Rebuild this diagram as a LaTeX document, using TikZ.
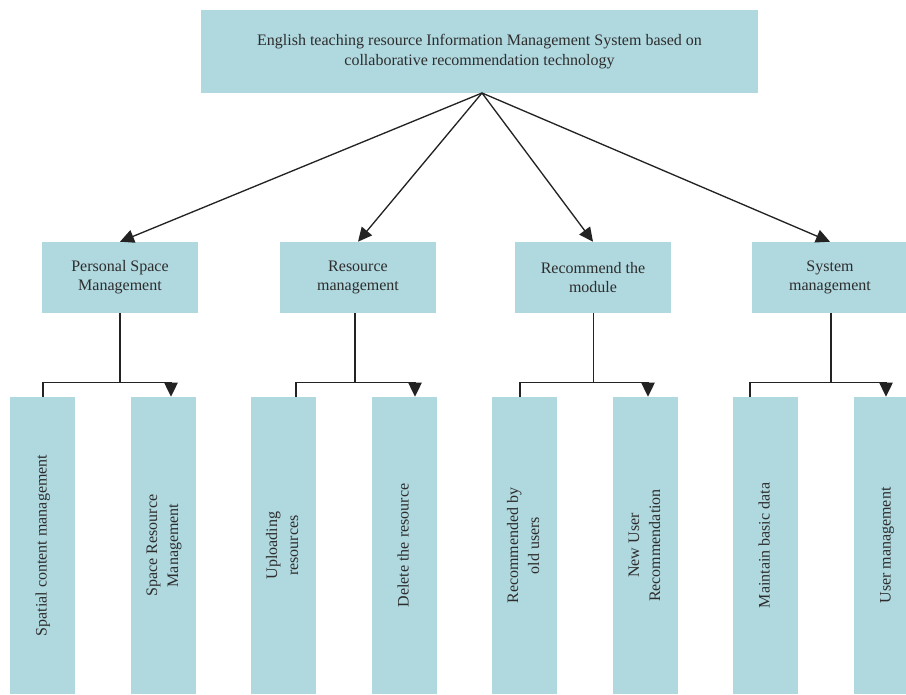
\documentclass[tikz,border=0pt]{standalone}
\usepackage{fontspec}
\setmainfont{Liberation Serif}
\usetikzlibrary{arrows.meta,calc}
\definecolor{boxblue}{RGB}{176,216,223}
\definecolor{txt}{RGB}{45,45,45}
\definecolor{ln}{RGB}{35,35,35}
\tikzset{
  topbox/.style={fill=boxblue, draw=none, minimum width=417.75pt, minimum height=62.25pt, align=center, text=txt, inner sep=0pt},
  midbox/.style={fill=boxblue, draw=none, minimum width=117pt, minimum height=53.25pt, align=center, text=txt, inner sep=0pt},
  leafbox/.style={fill=boxblue, draw=none, minimum width=48.75pt, minimum height=222.75pt, text=txt, inner sep=0pt},
  conn/.style={draw=ln, line width=1pt},
  arr/.style={conn, -{Triangle[length=10.5pt,width=10pt]}}
}
\newcommand{\vtext}[1]{\rotatebox{90}{\begin{tabular}{@{}c@{}}#1\end{tabular}}}
\begin{document}
\begin{tikzpicture}[x=0.75pt,y=-0.75pt,font=\fontsize{12}{14.5}\selectfont]
\useasboundingbox (0,0) rectangle (906,695);
% top
\node[topbox] (top) at (479.5,51.5) {English teaching resource Information Management System based on\\collaborative recommendation technology};
\coordinate (apex) at (482,93);
% level 1
\node[midbox] (m1) at (120,277.5) {Personal Space\\Management};
\node[midbox] (m2) at (358,277.5) {Resource\\management};
\node[midbox] (m3) at (593,277.5) {Recommend the\\module};
\node[midbox] (m4) at (830,277.5) {System\\management};
% leaves
\renewcommand{\arraystretch}{1.08}
\node[leafbox] (l1) at (42.5,545.5) {\vtext{Spatial content management}};
\node[leafbox] (l2) at (163.5,545.5) {\vtext{Space Resource\\Management}};
\node[leafbox] (l3) at (283.5,545.5) {\vtext{Uploading\\resources}};
\node[leafbox] (l4) at (404.5,545.5) {\vtext{Delete the resource}};
\node[leafbox] (l5) at (524.5,545.5) {\vtext{Recommended by\\old users}};
\node[leafbox] (l6) at (645.5,545.5) {\vtext{New User\\Recommendation}};
\node[leafbox] (l7) at (765.5,545.5) {\vtext{Maintain basic data}};
\node[leafbox] (l8) at (886.5,545.5) {\vtext{User management}};
% top arrows
\foreach \m in {m1,m2,m3,m4} \draw[arr] (apex) -- (\m.north);
% buses
\coordinate (b1) at ($(m1.south)+(0,69)$);
\coordinate (b2) at ($(m2.south)+(-3,69)$);
\coordinate (b3) at ($(m3.south)+(0.5,69)$);
\coordinate (b4) at ($(m4.south)+(1,69)$);
\draw[conn] (m1.south) -- (b1);
\draw[conn] ($(m2.south)+(-3,0)$) -- (b2);
\draw[conn] ($(m3.south)+(0.5,0)$) -- (b3);
\draw[conn] ($(m4.south)+(1,0)$) -- (b4);
\draw[conn] (b1) -| ($(l1.north)+(0.5,0)$);
\draw[arr] (b1) -| ($(l2.north)+(7.5,0)$);
\draw[conn] (b2) -| ($(l3.north)+(12.5,0)$);
\draw[arr] (b2) -| ($(l4.north)+(10.5,0)$);
\draw[conn] (b3) -| ($(l5.north)+(-4.5,0)$);
\draw[arr] (b3) -| ($(l6.north)+(2.5,0)$);
\draw[conn] (b4) -| ($(l7.north)+(-15.5,0)$);
\draw[arr] (b4) -| ($(l8.north)+(-0.5,0)$);
\end{tikzpicture}
\end{document}
